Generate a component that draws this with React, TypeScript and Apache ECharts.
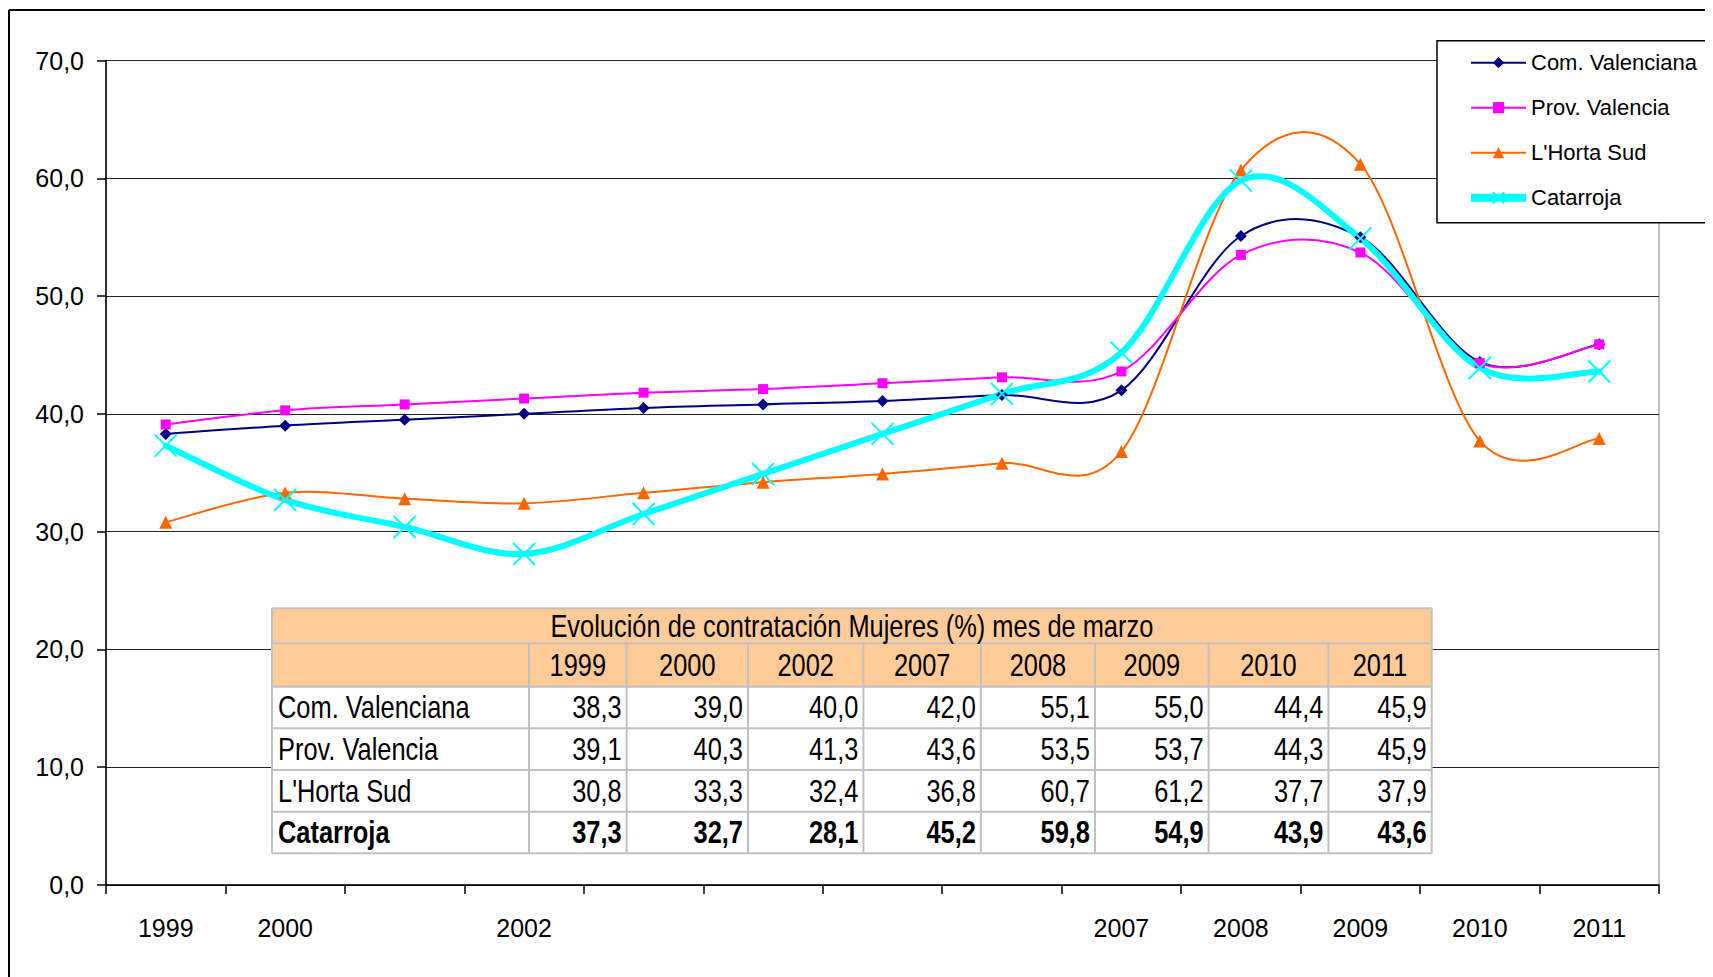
import React, { useEffect, useRef } from 'react';
import * as echarts from 'echarts';

// ---------- data ----------
const categories = ['1999', '2000', '', '2002', '', '', '', '', '2007', '2008', '2009', '2010', '2011'];
const seriesNames = ['Com. Valenciana', 'Prov. Valencia', "L'Horta Sud", 'Catarroja'];
const comValenciana = [38.3, 39.0, 39.5, 40.0, 40.5, 40.8, 41.1, 41.6, 42.0, 55.1, 55.0, 44.4, 45.9];
const provValencia = [39.1, 40.3, 40.8, 41.3, 41.8, 42.1, 42.6, 43.1, 43.6, 53.5, 53.7, 44.3, 45.9];
const hortaSud = [30.8, 33.3, 32.8, 32.4, 33.3, 34.2, 34.9, 35.8, 36.8, 60.7, 61.2, 37.7, 37.9];
const catarroja = [37.3, 32.7, 30.4, 28.1, 31.5, 34.9, 38.3, 41.7, 45.2, 59.8, 54.9, 43.9, 43.6];
const yMin = 0;
const yMax = 70;
const yInterval = 10;
const tableTitle = 'Evolución de contratación Mujeres (%) mes de marzo';

// ---------- style ----------
const FONT = "'Liberation Sans', Arial, sans-serif";
const NARROW = 0.82;
const colors = ['#000080', '#FF00FF', '#FF6600', '#00FFFF'];
const symbols = ['diamond', 'rect', 'triangle', 'path://M0,0L10,10M10,0L0,10'];
const symbolSizes = [12, 10, 13, 22];
const widths = [2, 2, 2, 6];

const fmt = (v: number) => v.toFixed(1).replace('.', ',');

function buildTable(): any[] {
  const allSeries = [comValenciana, provValencia, hortaSud, catarroja];
  const idx = categories.map((c, i) => (c ? i : -1)).filter((i) => i >= 0);
  const colX = [264, 521, 618.6, 740, 855.4, 972.9, 1087, 1200.6, 1320.4, 1423.7];
  const rowY = [600.3, 635.3, 678.7, 720.3, 762, 803.7, 845.3];
  const x0 = colX[0];
  const x1 = colX[colX.length - 1];
  const els: any[] = [];
  const gridStroke = '#C0C0C0';
  els.push({ type: 'rect', z: 10, shape: { x: x0, y: rowY[0], width: x1 - x0, height: rowY[2] - rowY[0] }, style: { fill: '#FFCC99' } });
  els.push({ type: 'rect', z: 10, shape: { x: x0, y: rowY[2], width: x1 - x0, height: rowY[6] - rowY[2] }, style: { fill: '#FFFFFF' } });
  rowY.forEach((y) => {
    els.push({ type: 'line', z: 11, shape: { x1: x0, y1: y, x2: x1, y2: y }, style: { stroke: gridStroke, lineWidth: 2 } });
  });
  colX.forEach((x, i) => {
    const top = i === 0 || i === colX.length - 1 ? rowY[0] : rowY[1];
    els.push({ type: 'line', z: 11, shape: { x1: x, y1: top, x2: x, y2: rowY[6] }, style: { stroke: gridStroke, lineWidth: 2 } });
  });
  const txt = (text: string, x: number, y: number, align: string, bold = false) => ({
    type: 'text',
    z: 12,
    x,
    y,
    scaleX: NARROW,
    style: {
      text,
      fill: '#000',
      fontSize: 31,
      fontFamily: FONT,
      fontWeight: bold ? 'bold' : 'normal',
      align,
      verticalAlign: 'middle',
    },
  });
  els.push(txt(tableTitle, (x0 + x1) / 2, (rowY[0] + rowY[1]) / 2, 'center'));
  idx.forEach((ci, j) => {
    els.push(txt(categories[ci], (colX[j + 1] + colX[j + 2]) / 2, (rowY[1] + rowY[2]) / 2, 'center'));
  });
  allSeries.forEach((s, r) => {
    const cy = (rowY[r + 2] + rowY[r + 3]) / 2;
    const bold = r === 3;
    els.push(txt(seriesNames[r], x0 + 6, cy, 'left', bold));
    idx.forEach((ci, j) => {
      els.push(txt(fmt(s[ci]), colX[j + 2] - 5, cy, 'right', bold));
    });
  });
  return els;
}

export default function App() {
  const ref = useRef<HTMLDivElement>(null);
  useEffect(() => {
    if (!ref.current) return;
    const chart = echarts.init(ref.current, undefined, { renderer: 'svg' });
    const data = [comValenciana, provValencia, hortaSud, catarroja];

    // Excel-like (Catmull-Rom) smoothed curves, drawn through the axes' scales
    const curveSeries = data.map((d, si) => ({
      type: 'custom',
      silent: true,
      z: 2,
      data: d.map((v, i) => [i, v]),
      encode: { x: 0, y: 1 },
      renderItem: (params: any, api: any) => {
        if (params.dataIndex !== 0) return null;
        const n = d.length;
        const P = (k: number) => {
          const kk = Math.max(0, Math.min(n - 1, k));
          return api.coord([kk, d[kk]]);
        };
        const p = P(0);
        let path = `M${p[0]},${p[1]}`;
        for (let i = 0; i < n - 1; i++) {
          const p0 = P(i - 1);
          const p1 = P(i);
          const p2 = P(i + 1);
          const p3 = P(i + 2);
          const c1x = p1[0] + (p2[0] - p0[0]) / 6;
          const c1y = p1[1] + (p2[1] - p0[1]) / 6;
          const c2x = p2[0] - (p3[0] - p1[0]) / 6;
          const c2y = p2[1] - (p3[1] - p1[1]) / 6;
          path += ` C${c1x},${c1y} ${c2x},${c2y} ${p2[0]},${p2[1]}`;
        }
        return {
          type: 'path',
          shape: { pathData: path },
          style: { stroke: colors[si], lineWidth: widths[si], fill: 'none', lineJoin: 'round', lineCap: 'round' },
        };
      },
    }));

    const markerSeries = data.map((d, i) => ({
      name: seriesNames[i],
      type: 'line',
      z: 3,
      data: d,
      showAllSymbol: true,
      symbol: symbols[i],
      symbolSize: symbolSizes[i],
      lineStyle: { color: colors[i], width: widths[i], opacity: 0 },
      itemStyle: i === 3 ? { color: colors[i], borderColor: colors[i], borderWidth: 2 } : { color: colors[i] },
      emphasis: { disabled: true },
    }));

    const option: any = {
      animation: false,
      backgroundColor: '#fff',
      grid: { left: 98, right: 54, top: 52.5, bottom: 92, show: true, borderColor: '#808080', borderWidth: 1 },
      legend: {
        orient: 'vertical',
        left: 1459,
        top: 39.7,
        padding: 0,
        itemWidth: 55,
        itemHeight: 14,
        itemGap: 15,
        textStyle: { fontSize: 22, fontFamily: FONT, color: '#000', lineHeight: 30 },
        data: seriesNames.map((name, i) => ({
          name,
          lineStyle: { color: colors[i], width: i === 3 ? 8 : 2, opacity: 1 },
        })),
      },
      xAxis: {
        type: 'category',
        data: categories,
        boundaryGap: true,
        axisLine: { lineStyle: { color: '#000', width: 1.5 } },
        axisTick: { show: true, interval: 0, length: 9, lineStyle: { color: '#000', width: 1.5 } },
        axisLabel: { interval: 0, margin: 30, fontSize: 25, fontFamily: FONT, color: '#000' },
        splitLine: { show: false },
      },
      yAxis: {
        type: 'value',
        min: yMin,
        max: yMax,
        interval: yInterval,
        axisLine: { show: true, lineStyle: { color: '#000', width: 1.5 } },
        axisTick: { show: true, length: 9, lineStyle: { color: '#000', width: 1.5 } },
        axisLabel: { margin: 22, fontSize: 25, fontFamily: FONT, color: '#000', formatter: (v: number) => fmt(v) },
        splitLine: { show: true, lineStyle: { color: '#222', width: 1 } },
      },
      series: [...curveSeries, ...markerSeries],
      graphic: [
        { type: 'line', z: 20, shape: { x1: 1, y1: 2, x2: 1, y2: 969 }, style: { stroke: '#000', lineWidth: 2 } },
        { type: 'line', z: 20, shape: { x1: 1, y1: 2, x2: 1705, y2: 2 }, style: { stroke: '#000', lineWidth: 2 } },
        { type: 'rect', z: 3, shape: { x: 1429, y: 32.7, width: 269, height: 182 }, style: { fill: '#fff', stroke: '#000', lineWidth: 1.5 } },
        ...buildTable(),
      ],
    };
    chart.setOption(option);
    return () => chart.dispose();
  }, []);
  return <div ref={ref} style={{ width: 1705, height: 969 }} />;
}
